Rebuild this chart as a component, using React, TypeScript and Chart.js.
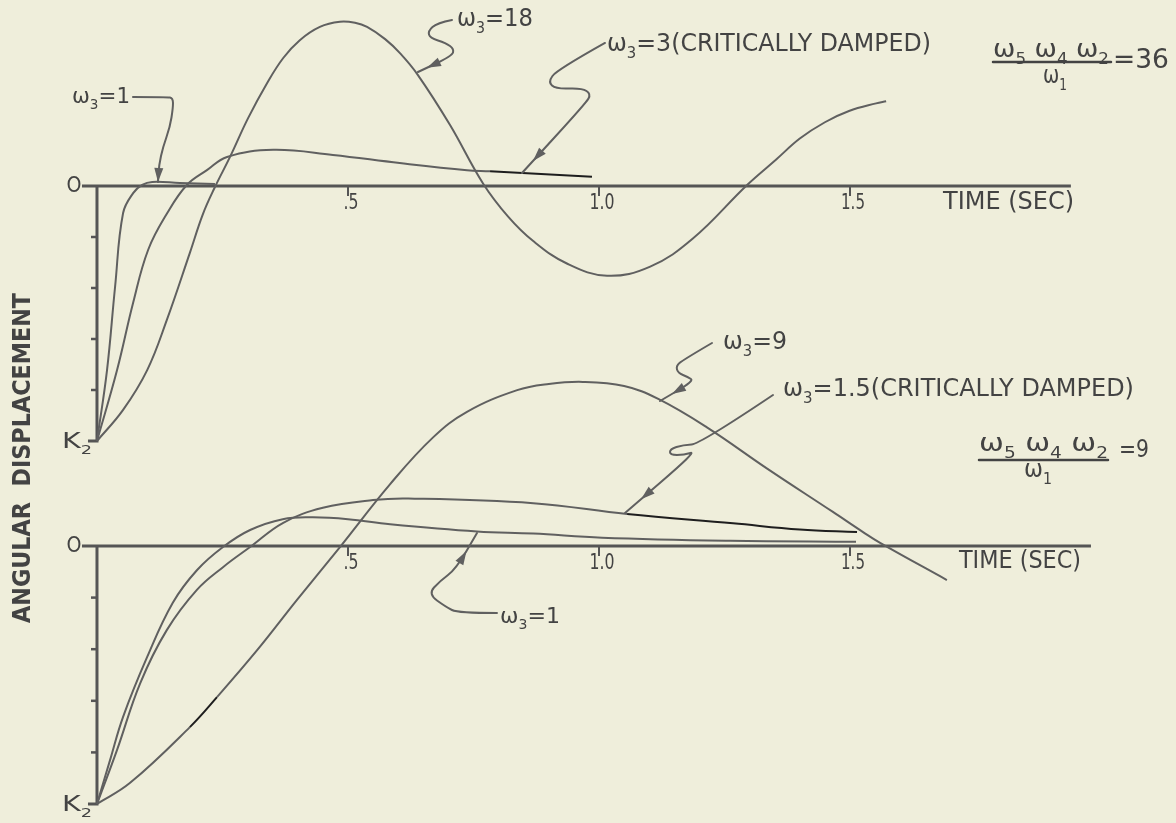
import React, { useEffect, useRef } from 'react';
import { Chart, registerables } from 'chart.js';

Chart.register(...registerables);

// ---------------- data (seconds / displacement units, K2 = -5) ----------------
const TIME_TICKS = [0.5, 1.0, 1.5];
const TIME_TICK_LABELS = ['.5', '1.0', '1.5'];
const DISP_TICKS = [-1, -2, -3, -4];
const K2_VALUE = -5;

// upper plot: w5 w4 w2 / w1 = 36
const TOP_W3_1_T = [0, 0.02, 0.036, 0.052, 0.072, 0.09, 0.11, 0.165, 0.235];
const TOP_W3_1_V = [-5, -3.61, -1.98, -0.53, -0.14, 0.02, 0.08, 0.06, 0.04];

const TOP_W3_3_T = [0, 0.04, 0.072, 0.102, 0.14, 0.179, 0.219, 0.259, 0.351, 0.47, 0.603, 0.737, 0.783, 0.986];
const TOP_W3_3_V = [-5, -3.61, -2.29, -1.25, -0.53, 0.02, 0.31, 0.57, 0.71, 0.61, 0.45, 0.31, 0.29, 0.18];

const TOP_W3_18_T = [0, 0.052, 0.1, 0.139, 0.185, 0.211, 0.235, 0.265, 0.301, 0.339, 0.371, 0.404, 0.444, 0.484, 0.514, 0.538, 0.574, 0.604, 0.639, 0.703, 0.769, 0.819, 0.869, 0.936, 1.016, 1.102, 1.187, 1.295, 1.353, 1.4, 1.45, 1.498, 1.552, 1.572];
const TOP_W3_18_V = [-5, -4.39, -3.61, -2.63, -1.31, -0.55, -0.02, 0.57, 1.33, 2.02, 2.51, 2.86, 3.12, 3.22, 3.2, 3.12, 2.88, 2.6, 2.18, 1.2, 0.05, -0.6, -1.08, -1.52, -1.76, -1.58, -1.03, 0.02, 0.52, 0.93, 1.25, 1.47, 1.62, 1.66];

// lower plot: w5 w4 w2 / w1 = 9
const BOT_W3_1_T = [0, 0.026, 0.052, 0.1, 0.151, 0.199, 0.251, 0.305, 0.37, 0.43, 0.5, 0.584, 0.757, 0.869, 1.006, 1.261, 1.512];
const BOT_W3_1_V = [-5, -4.15, -3.31, -2.15, -1.1, -0.47, -0.02, 0.31, 0.52, 0.555, 0.52, 0.42, 0.28, 0.24, 0.16, 0.1, 0.08];

const BOT_W3_15_T = [0, 0.04, 0.086, 0.139, 0.199, 0.251, 0.305, 0.371, 0.45, 0.55, 0.62, 0.869, 1.056, 1.267, 1.4, 1.514];
const BOT_W3_15_V = [-5, -3.95, -2.66, -1.63, -0.85, -0.41, -0.02, 0.45, 0.74, 0.89, 0.92, 0.83, 0.62, 0.44, 0.32, 0.27];

const BOT_W3_9_T = [0, 0.066, 0.185, 0.239, 0.319, 0.398, 0.484, 0.584, 0.669, 0.737, 0.837, 0.9, 0.968, 1.05, 1.118, 1.215, 1.335, 1.466, 1.526, 1.56, 1.693];
const BOT_W3_9_V = [-5, -4.59, -3.51, -2.93, -2.02, -1.05, -0.02, 1.2, 2.1, 2.6, 3.02, 3.14, 3.18, 3.1, 2.85, 2.3, 1.5, 0.66, 0.27, 0.06, -0.66];

// ---------------- styling / layout ----------------
const W = 1176;
const H = 823;
const BG = '#efeedb';
const INK = '#434343';
const CURVE = '#606060';
const AXIS = '#555555';
const DARK = '#1e1e1e';
const FONT = '"DejaVu Sans", "Liberation Sans", sans-serif';

const X_MIN = -0.1932;
const X_MAX = 2.1494;
const TOP_Y_MIN = -12.49;
const TOP_Y_MAX = 3.647;
const BOT_Y_MIN = -5.368;
const BOT_Y_MAX = 10.581;
const TOP_AXIS_END = 1.94;
const BOT_AXIS_END = 1.98;
const TICK_LABEL_W = [15, 25, 24];

type Pt = [number, number];
type Note = { txt: string; t: number; v: number; size: number; w: number; align?: 'left' | 'center' };
type Leader = { pts: Pt[]; tip: Pt; from: Pt };

const TOP_NOTES: Note[] = [
  { txt: 'ω_3=1', t: -0.0498, v: 1.745, size: 22, w: 58 },
  { txt: 'ω_3=18', t: 0.7171, v: 3.255, size: 24, w: 76 },
  { txt: 'ω_3=3(CRITICALLY DAMPED)', t: 1.0159, v: 2.765, size: 24, w: 324 },
  { txt: 'ω_5 ω_4 ω_2', t: 1.9004, v: 2.647, size: 24, w: 116, align: 'center' },
  { txt: 'ω_1', t: 1.9084, v: 2.137, size: 24, w: 24, align: 'center' },
  { txt: '=36', t: 2.0239, v: 2.451, size: 26, w: 56 },
  { txt: 'TIME (SEC)', t: 1.6853, v: -0.333, size: 24, w: 131 },
];
const TOP_BAR = { t0: 1.7849, t1: 2.0199, v: 2.431 };
const TOP_LEADERS: Leader[] = [
  {
    pts: [[0.0717, 1.745], [0.1394, 1.745], [0.1514, 1.725], [0.1514, 1.529], [0.1454, 1.157], [0.1315, 0.765], [0.1235, 0.412], [0.1215, 0.078]],
    tip: [0.1215, 0.078], from: [0.1235, 0.412],
  },
  {
    pts: [[0.7072, 3.255], [0.6773, 3.196], [0.6594, 3.039], [0.6633, 2.902], [0.6952, 2.804], [0.7112, 2.686], [0.7072, 2.549], [0.6394, 2.235]],
    tip: [0.6574, 2.318], from: [0.7072, 2.549],
  },
  {
    pts: [[1.012, 2.804], [0.9163, 2.275], [0.8984, 2.039], [0.9143, 1.902], [0.9661, 1.922], [0.9841, 1.804], [0.9741, 1.627], [0.8466, 0.255]],
    tip: [0.8685, 0.49], from: [0.9741, 1.627],
  },
];

const BOT_NOTES: Note[] = [
  { txt: 'ω_3=9', t: 1.247, v: 3.934, size: 24, w: 64 },
  { txt: 'ω_3=1.5(CRITICALLY DAMPED)', t: 1.3665, v: 3.023, size: 24, w: 351 },
  { txt: 'ω_5 ω_4 ω_2', t: 1.8855, v: 1.957, size: 24, w: 129, align: 'center' },
  { txt: 'ω_1', t: 1.8745, v: 1.453, size: 24, w: 28, align: 'center' },
  { txt: '=9', t: 2.0359, v: 1.841, size: 24, w: 30 },
  { txt: 'ω_3=1', t: 0.8028, v: -1.376, size: 22, w: 60 },
  { txt: 'TIME (SEC)', t: 1.7171, v: -0.31, size: 24, w: 122 },
];
const BOT_BAR = { t0: 1.757, t1: 2.014, v: 1.667 };
const BOT_LEADERS: Leader[] = [
  {
    pts: [[1.2251, 3.934], [1.1673, 3.605], [1.1534, 3.488], [1.1574, 3.353], [1.1773, 3.275], [1.1892, 3.198], [1.1215, 2.81]],
    tip: [1.1454, 2.948], from: [1.1892, 3.198],
  },
  {
    pts: [[1.3466, 2.926], [1.2012, 1.977], [1.1673, 1.957], [1.1414, 1.88], [1.1414, 1.764], [1.1693, 1.764], [1.1952, 1.841], [1.0518, 0.64]],
    tip: [1.0837, 0.907], from: [1.1952, 1.841],
  },
  {
    pts: [[0.7968, -1.298], [0.7191, -1.298], [0.6952, -1.182], [0.6594, -0.93], [0.6833, -0.678], [0.7151, -0.446], [0.757, 0.252]],
    tip: [0.736, -0.097], from: [0.7151, -0.446],
  },
];

const Y_TITLE = { txt: 'ANGULAR  DISPLACEMENT', t: -0.1454, v: -5.333, size: 24, w: 330 };

// ---------------- drawing helpers ----------------
function parseRich(s: string) {
  const out: { t: string; sub: boolean }[] = [];
  let buf = '';
  for (let i = 0; i < s.length; i++) {
    if (s[i] === '_' && i + 1 < s.length) {
      if (buf) { out.push({ t: buf, sub: false }); buf = ''; }
      out.push({ t: s[i + 1], sub: true });
      i++;
    } else buf += s[i];
  }
  if (buf) out.push({ t: buf, sub: false });
  return out;
}

function drawRich(ctx: CanvasRenderingContext2D, s: string, x: number, y: number, size: number,
  opts: { width?: number; align?: 'left' | 'center' | 'right'; bold?: boolean } = {}) {
  const parts = parseRich(s);
  const wt = opts.bold ? 'bold ' : '';
  const mainF = `${wt}${size}px ${FONT}`;
  const subF = `${wt}${Math.round(size * 0.62)}px ${FONT}`;
  let total = 0;
  const widths = parts.map((p) => {
    ctx.font = p.sub ? subF : mainF;
    const w = ctx.measureText(p.t).width;
    total += w;
    return w;
  });
  const k = opts.width ? opts.width / total : 1;
  const drawn = total * k;
  const align = opts.align || 'left';
  const x0 = align === 'center' ? x - drawn / 2 : align === 'right' ? x - drawn : x;
  ctx.save();
  ctx.translate(x0, y);
  ctx.scale(k, 1);
  ctx.fillStyle = INK;
  ctx.textBaseline = 'middle';
  ctx.textAlign = 'left';
  let cx = 0;
  parts.forEach((p, i) => {
    ctx.font = p.sub ? subF : mainF;
    ctx.fillText(p.t, cx, p.sub ? size * 0.36 : 0);
    cx += widths[i];
  });
  ctx.restore();
}

function smoothPath(ctx: CanvasRenderingContext2D, pts: { x: number; y: number }[]) {
  ctx.beginPath();
  ctx.moveTo(pts[0].x, pts[0].y);
  for (let i = 1; i < pts.length - 1; i++) {
    const mx = (pts[i].x + pts[i + 1].x) / 2;
    const my = (pts[i].y + pts[i + 1].y) / 2;
    ctx.quadraticCurveTo(pts[i].x, pts[i].y, mx, my);
  }
  const last = pts[pts.length - 1];
  ctx.lineTo(last.x, last.y);
  ctx.stroke();
}

function arrowHead(ctx: CanvasRenderingContext2D, tip: { x: number; y: number }, from: { x: number; y: number }) {
  const a = Math.atan2(tip.y - from.y, tip.x - from.x);
  const len = 14;
  const half = 4.5;
  const bx = tip.x - len * Math.cos(a);
  const by = tip.y - len * Math.sin(a);
  ctx.beginPath();
  ctx.moveTo(tip.x, tip.y);
  ctx.lineTo(bx - half * Math.sin(a), by + half * Math.cos(a));
  ctx.lineTo(bx + half * Math.sin(a), by - half * Math.cos(a));
  ctx.closePath();
  ctx.fill();
}

function drawAxes(chart: any, yId: string, xEnd: number) {
  const ctx: CanvasRenderingContext2D = chart.ctx;
  const xs = chart.scales.x;
  const ys = chart.scales[yId];
  const x0 = xs.getPixelForValue(0);
  const y0 = ys.getPixelForValue(0);
  const yK = ys.getPixelForValue(K2_VALUE);
  const xE = xs.getPixelForValue(xEnd);
  ctx.save();
  ctx.strokeStyle = AXIS;
  ctx.lineCap = 'butt';
  ctx.lineWidth = 3;
  ctx.beginPath();
  ctx.moveTo(x0 - 15, y0);
  ctx.lineTo(xE, y0);
  ctx.moveTo(x0, y0);
  ctx.lineTo(x0, yK + 1.5);
  ctx.moveTo(x0 - 9, yK);
  ctx.lineTo(x0 + 1.5, yK);
  ctx.stroke();
  ctx.lineWidth = 2.5;
  DISP_TICKS.forEach((v) => {
    const y = ys.getPixelForValue(v);
    ctx.beginPath();
    ctx.moveTo(x0 - 6, y);
    ctx.lineTo(x0, y);
    ctx.stroke();
  });
  ctx.lineWidth = 2;
  TIME_TICKS.forEach((t, i) => {
    const x = xs.getPixelForValue(t);
    ctx.beginPath();
    ctx.moveTo(x, y0 - 1);
    ctx.lineTo(x, y0 + 10);
    ctx.stroke();
    drawRich(ctx, TIME_TICK_LABELS[i], x + 3, y0 + 18, 21, { width: TICK_LABEL_W[i], align: 'center' });
  });
  drawRich(ctx, 'O', x0 - 23, y0 + 1, 21, { width: 15, align: 'center' });
  drawRich(ctx, 'K_2', x0 - 35, yK + 2, 21, { width: 30 });
  ctx.restore();
}

function drawNotes(chart: any, yId: string, notes: Note[], leaders: Leader[], bar: { t0: number; t1: number; v: number }) {
  const ctx: CanvasRenderingContext2D = chart.ctx;
  const xs = chart.scales.x;
  const ys = chart.scales[yId];
  const P = (p: Pt) => ({ x: xs.getPixelForValue(p[0]), y: ys.getPixelForValue(p[1]) });
  ctx.save();
  ctx.strokeStyle = CURVE;
  ctx.fillStyle = CURVE;
  ctx.lineWidth = 2;
  ctx.lineJoin = 'round';
  ctx.lineCap = 'round';
  leaders.forEach((l) => {
    smoothPath(ctx, l.pts.map(P));
    arrowHead(ctx, P(l.tip), P(l.from));
  });
  ctx.strokeStyle = INK;
  ctx.lineWidth = 2.5;
  ctx.beginPath();
  ctx.moveTo(xs.getPixelForValue(bar.t0), ys.getPixelForValue(bar.v));
  ctx.lineTo(xs.getPixelForValue(bar.t1), ys.getPixelForValue(bar.v));
  ctx.stroke();
  notes.forEach((n) => {
    drawRich(ctx, n.txt, xs.getPixelForValue(n.t), ys.getPixelForValue(n.v), n.size, { width: n.w, align: n.align || 'left' });
  });
  ctx.restore();
}

const paperPlugin = {
  id: 'paper',
  beforeDraw(chart: any) {
    const ctx = chart.ctx;
    ctx.save();
    ctx.fillStyle = BG;
    ctx.fillRect(0, 0, chart.width, chart.height);
    ctx.restore();
  },
  beforeDatasetsDraw(chart: any) {
    drawAxes(chart, 'yTop', TOP_AXIS_END);
    drawAxes(chart, 'yBot', BOT_AXIS_END);
  },
  afterDatasetsDraw(chart: any) {
    drawNotes(chart, 'yTop', TOP_NOTES, TOP_LEADERS, TOP_BAR);
    drawNotes(chart, 'yBot', BOT_NOTES, BOT_LEADERS, BOT_BAR);
    const ctx: CanvasRenderingContext2D = chart.ctx;
    const cx = chart.scales.x.getPixelForValue(Y_TITLE.t);
    const cy = chart.scales.yTop.getPixelForValue(Y_TITLE.v);
    ctx.save();
    ctx.translate(cx, cy);
    ctx.rotate(-Math.PI / 2);
    drawRich(ctx, Y_TITLE.txt, 0, 0, Y_TITLE.size, { width: Y_TITLE.w, align: 'center', bold: true });
    ctx.restore();
  },
};

type Series = { t: number[]; v: number[]; axis: string; dark?: [number, number] };
const SERIES: Series[] = [
  { t: TOP_W3_1_T, v: TOP_W3_1_V, axis: 'yTop' },
  { t: TOP_W3_3_T, v: TOP_W3_3_V, axis: 'yTop', dark: [0.78, 1.0] },
  { t: TOP_W3_18_T, v: TOP_W3_18_V, axis: 'yTop' },
  { t: BOT_W3_1_T, v: BOT_W3_1_V, axis: 'yBot' },
  { t: BOT_W3_15_T, v: BOT_W3_15_V, axis: 'yBot', dark: [1.05, 1.6] },
  { t: BOT_W3_9_T, v: BOT_W3_9_V, axis: 'yBot', dark: [0.18, 0.24] },
];

export default function App() {
  const ref = useRef<HTMLCanvasElement>(null);
  useEffect(() => {
    if (!ref.current) return;
    const datasets = SERIES.map((s) => ({
      data: s.t.map((t, i) => ({ x: t, y: s.v[i] })),
      yAxisID: s.axis,
      showLine: true,
      fill: false,
      borderColor: CURVE,
      borderWidth: 2,
      pointRadius: 0,
      pointHoverRadius: 0,
      tension: 0.4,
      segment: s.dark
        ? {
            borderColor: (c: any) =>
              c.p0.parsed.x >= s.dark![0] - 1e-6 && c.p1.parsed.x <= s.dark![1] + 1e-6 ? DARK : undefined,
          }
        : undefined,
    }));
    const chart = new Chart(ref.current, {
      type: 'scatter',
      data: { datasets } as any,
      options: {
        responsive: false,
        animation: false,
        devicePixelRatio: 1,
        events: [],
        layout: { padding: 0 },
        plugins: { legend: { display: false }, tooltip: { enabled: false }, title: { display: false } },
        scales: {
          x: { type: 'linear', min: X_MIN, max: X_MAX, display: false },
          y: { type: 'linear', display: false },
          yTop: { type: 'linear', axis: 'y', min: TOP_Y_MIN, max: TOP_Y_MAX, display: false },
          yBot: { type: 'linear', axis: 'y', min: BOT_Y_MIN, max: BOT_Y_MAX, display: false },
        },
      } as any,
      plugins: [paperPlugin],
    });
    return () => chart.destroy();
  }, []);
  return (
    <div style={{ position: 'absolute', left: 0, top: 0, width: W, height: H, background: BG, overflow: 'hidden' }}>
      <canvas ref={ref} width={W} height={H} style={{ display: 'block' }} />
    </div>
  );
}
